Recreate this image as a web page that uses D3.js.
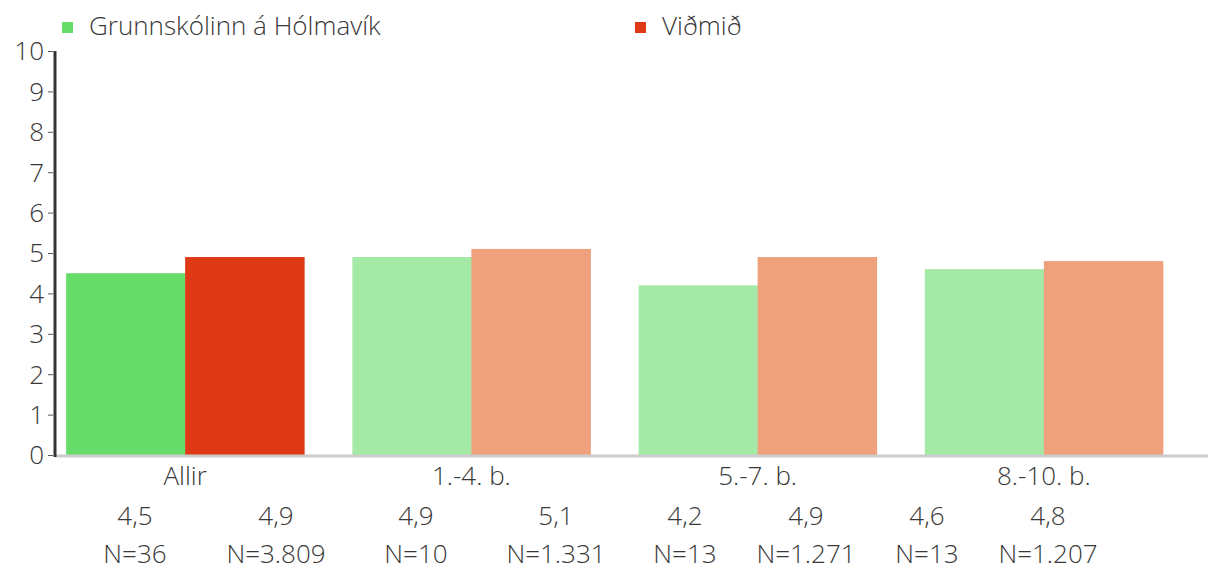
<!DOCTYPE html>
<html><head><meta charset="utf-8">
<script src="https://cdn.jsdelivr.net/npm/d3@7"></script>
<style>body{margin:0;background:#fff}svg text{font-family:"Open Sans",Lato,sans-serif;fill:#383838;font-weight:300}</style>
</head><body><svg id="c" width="1208" height="570"></svg>
<script>
const categories = ["Allir","1.-4. b.","5.-7. b.","8.-10. b."];
const seriesNames = ["Grunnskólinn á Hólmavík","Viðmið"];
const schoolValues = [4.5, 4.9, 4.2, 4.6];
const benchmarkValues = [4.9, 5.1, 4.9, 4.8];
const schoolN = ["N=36","N=10","N=13","N=13"];
const benchmarkN = ["N=3.809","N=1.331","N=1.271","N=1.207"];
const yTicks = [0,1,2,3,4,5,6,7,8,9,10];

const colorsMain = ["#66dd6a","#de3914"];
const colorsLight = ["#a4e9a5","#eea17c"];
const FS = 26;

const svg = d3.select("#c");
const y = d3.scaleLinear().domain([0,10]).range([455,51]);
const x = d3.scaleBand().domain(categories).range([42,1187]).paddingInner(0).paddingOuter(0);
const groupW = x.bandwidth()*0.8314;
const xs = d3.scaleBand().domain([0,1]).range([0,groupW]);

const data = categories.flatMap((c,i)=>[
  {c,i,s:0,v:schoolValues[i]},{c,i,s:1,v:benchmarkValues[i]}]);

svg.append("g").selectAll("rect").data(data).join("rect")
  .attr("x",d=>x(d.c)+(x.bandwidth()-groupW)/2+xs(d.s))
  .attr("width",xs.bandwidth()+0.5)
  .attr("y",d=>y(d.v))
  .attr("height",d=>y(0)-y(d.v))
  .attr("fill",d=>d.i===0?colorsMain[d.s]:colorsLight[d.s]);

// baseline
svg.append("line").attr("x1",55).attr("x2",1208).attr("y1",y(0)+1).attr("y2",y(0)+1)
  .attr("stroke","#cccccc").attr("stroke-width",3);

// y axis
const ya = svg.append("g").attr("transform","translate(55,0)")
  .call(d3.axisLeft(y).tickValues(yTicks).tickSize(5).tickPadding(6));
ya.select(".domain").remove();
ya.selectAll(".tick line").attr("stroke","#555").attr("transform","translate(-2,0)");
ya.selectAll(".tick text").attr("font-size",FS).attr("fill","#383838").attr("dy","0.34em");
svg.append("line").attr("x1",55).attr("x2",55).attr("y1",y(10)).attr("y2",y(0)+2)
  .attr("stroke","#333").attr("stroke-width",3);

// category labels
svg.append("g").selectAll("text").data(categories).join("text")
  .attr("x",d=>x(d)+x.bandwidth()/2).attr("y",485)
  .attr("text-anchor","middle").attr("font-size",FS).text(d=>d);

// table below
const tableCols = d3.scaleOrdinal().domain(d3.range(8)).range([135,276,416,556,685,806,927,1048]);
const fmt = v => d3.format(".1f")(v).replace(".",",");
const rows = categories.flatMap((c,i)=>[
  {k:i*2,v:fmt(schoolValues[i]),n:schoolN[i]},{k:i*2+1,v:fmt(benchmarkValues[i]),n:benchmarkN[i]}]);
const tg = svg.append("g");
tg.selectAll("text.v").data(rows).join("text").attr("class","v")
  .attr("x",d=>tableCols(d.k)).attr("y",525).attr("text-anchor","middle").attr("font-size",FS).text(d=>d.v);
tg.selectAll("text.n").data(rows).join("text").attr("class","n")
  .attr("x",d=>tableCols(d.k)).attr("y",563).attr("text-anchor","middle").attr("font-size",FS).text(d=>d.n);

// legend
const legX = d3.scaleOrdinal().domain([0,1]).range([62,635]);
const lg = svg.append("g").selectAll("g").data(seriesNames).join("g")
  .attr("transform",(d,i)=>`translate(${legX(i)},0)`);
lg.append("rect").attr("x",0).attr("y",22).attr("width",11).attr("height",11).attr("fill",(d,i)=>colorsMain[i]);
lg.append("text").attr("x",27).attr("y",35).attr("font-size",FS).text(d=>d);
</script></body></html>
